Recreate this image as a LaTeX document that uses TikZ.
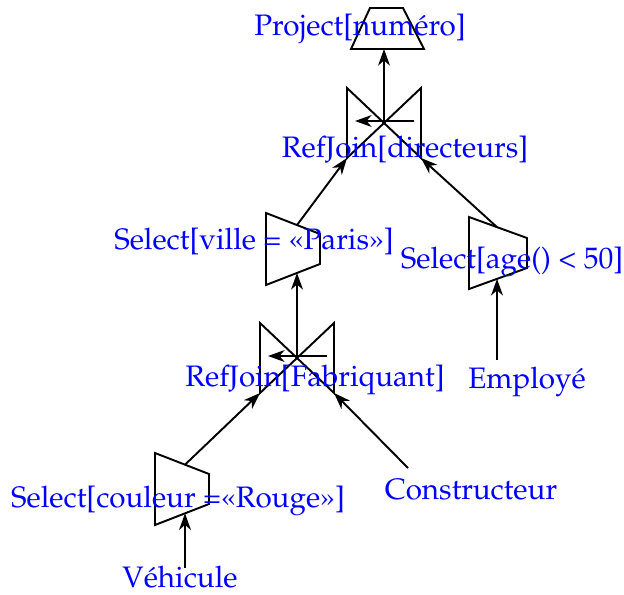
\documentclass[tikz,border=0pt]{standalone}
\usepackage[T1]{fontenc}
\usepackage{mathpazo}
\usetikzlibrary{arrows.meta}
\tikzset{
  lbl/.style={text=blue, inner sep=0pt, anchor=base},
  op/.style={draw, line width=0.65pt},
  flow/.style={line width=0.65pt, -{Stealth[length=5.6pt, width=4pt, inset=1.7pt]}}
}
\begin{document}
\begin{tikzpicture}[x=0.338pt, y=-0.338pt]
	\useasboundingbox (0,0) rectangle (624,594);

	% join operators
	\foreach \n/\x/\y in {rjd/384/123, rjf/297/358}
	{
		\draw[op] (\x-37,\y-35) -- (\x-37,\y+35) -- (\x+37,\y-35) -- (\x+37,\y+35) -- cycle;
		\coordinate (\n) at (\x,\y-2);
		\coordinate (\n-sw) at (\x-37,\y+35);
		\coordinate (\n-se) at (\x+37,\y+35);
		\coordinate (\n-e) at (\x+30,\y-2);
		\coordinate (\n-w) at (\x-29,\y-2);
	}
	% select operators
	\foreach \n/\l/\w/\m/\c in {ville/266/54/297/249, age/469/58/497/253, coul/155/54/185/489}
	{
		\pgfmathsetmacro{\h}{36-21*(\m-\l)/\w}%
		\draw[op] (\l,\c-36) -- (\l+\w,\c-15) -- (\l+\w,\c+15) -- (\l,\c+36) -- cycle;
		\coordinate (\n-top) at (\m,\c-\h);
		\coordinate (\n-bot) at (\m,\c+\h);
	}
	\draw[op] (370,8) -- (403,8) -- (424,49) -- (351,49) -- cycle;
	\coordinate (proj) at (384,49);

	\coordinate (cons) at (408,468);
	\coordinate (veh) at (185,568);
	\coordinate (emp) at (497,360);

	\node[lbl] (l-proj) at (360,35) {Project[num\'ero]};
	\node[lbl] (l-rjd) at (405,157) {RefJoin[directeurs]};
	\node[lbl] (l-ville) at (254,249) {Select[ville = \guillemotleft Paris\guillemotright]};
	\node[lbl] (l-age) at (512,268) {Select[age() < 50]};
	\node[lbl] (l-rjf) at (315,386) {RefJoin[Fabriquant]};
	\node[lbl] (l-emp) at (527,388) {Employ\'e};
	\node[lbl] (l-coul) at (178,507) {Select[couleur =\guillemotleft Rouge\guillemotright]};
	\node[lbl] (l-cons) at (471,499) {Constructeur};
	\node[lbl] (l-veh) at (180,587) {V\'ehicule};

	\draw[flow] (rjd) -- (proj);
	\draw[flow] (rjd-e) -- (rjd-w);
	\draw[flow] (ville-top) -- (rjd-sw);
	\draw[flow] (age-top) -- (rjd-se);
	\draw[flow] (rjf) -- (ville-bot);
	\draw[flow] (rjf-e) -- (rjf-w);
	\draw[flow] (coul-top) -- (rjf-sw);
	\draw[flow] (cons) -- (rjf-se);
	\draw[flow] (veh) -- (coul-bot);
	\draw[flow] (emp) -- (age-bot);
\end{tikzpicture}
\end{document}
